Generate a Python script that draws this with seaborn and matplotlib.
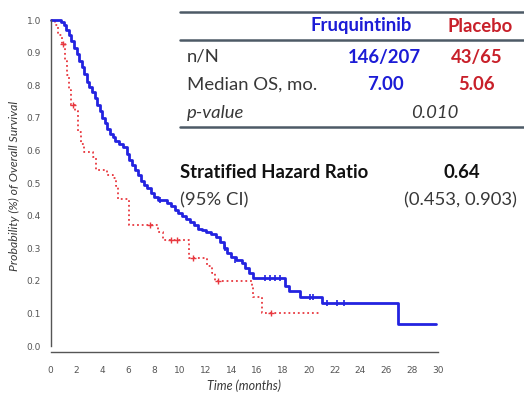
import matplotlib
matplotlib.use("Agg")
import matplotlib.pyplot as plt
import seaborn as sns
import pandas as pd

# ---------------- data ----------------
fru_time = [0, 0.8, 1.0, 1.2, 1.4, 1.6, 1.8, 2.0, 2.2, 2.4, 2.6, 2.8, 3.0, 3.2, 3.4,
            3.6, 3.8, 4.0, 4.2, 4.4, 4.6, 4.8, 5.0, 5.3, 5.6, 5.9, 6.1, 6.3, 6.5, 6.8,
            7.0, 7.2, 7.5, 7.8, 8.0, 8.3, 9.0, 9.3, 9.6, 9.9, 10.2, 10.5, 10.8, 11.1,
            11.4, 11.7, 12.0, 12.4, 12.8, 13.1, 13.4, 13.7, 14.0, 14.4, 14.8, 15.1,
            15.4, 15.7, 18.2, 18.5, 19.3, 21.0, 26.9, 29.9]
fru_surv = [1.0, 0.995, 0.985, 0.97, 0.955, 0.935, 0.915, 0.895, 0.875, 0.855, 0.835,
            0.81, 0.795, 0.78, 0.76, 0.74, 0.72, 0.70, 0.685, 0.665, 0.65, 0.64, 0.63,
            0.62, 0.61, 0.59, 0.57, 0.555, 0.54, 0.525, 0.505, 0.495, 0.485, 0.47,
            0.458, 0.448, 0.438, 0.428, 0.418, 0.408, 0.40, 0.39, 0.38, 0.37, 0.36,
            0.355, 0.35, 0.345, 0.335, 0.32, 0.30, 0.285, 0.272, 0.265, 0.255, 0.24,
            0.225, 0.208, 0.185, 0.168, 0.15, 0.132, 0.067, 0.067]
fru_cens_time = [8.5, 13.5, 14.3, 16.6, 17.0, 17.4, 17.8, 20.1, 20.35, 21.4, 22.2, 22.7]
fru_cens_surv = [0.448, 0.30, 0.265, 0.208, 0.208, 0.208, 0.208, 0.15, 0.15, 0.132, 0.132, 0.132]

pla_time = [0, 0.3, 0.6, 0.85, 1.1, 1.3, 1.45, 1.6, 1.9, 2.1, 2.35, 2.6, 3.3, 3.5,
            4.4, 4.8, 5.05, 5.2, 6.1, 8.3, 8.7, 10.7, 12.1, 12.5, 12.7, 15.6, 15.7,
            16.4, 20.9]
pla_surv = [1.0, 0.985, 0.955, 0.925, 0.875, 0.83, 0.785, 0.74, 0.72, 0.655, 0.62,
            0.595, 0.58, 0.54, 0.525, 0.515, 0.49, 0.45, 0.37, 0.35, 0.325, 0.27,
            0.245, 0.225, 0.20, 0.18, 0.15, 0.10, 0.10]
pla_cens_time = [0.95, 1.75, 7.7, 9.3, 9.8, 11.0, 13.0, 17.1]
pla_cens_surv = [0.925, 0.74, 0.37, 0.325, 0.325, 0.27, 0.20, 0.10]

x_ticks = list(range(0, 31, 2))
y_ticks = [0.0, 0.1, 0.2, 0.3, 0.4, 0.5, 0.6, 0.7, 0.8, 0.9, 1.0]

BLUE = "#2323e0"
RED = "#e8383f"
RED_TXT = "#c8202a"
BLUE_TXT = "#1c1cd6"
DARK = "#383838"
GREY = "#555555"

sns.set_style("white")
plt.rcParams["font.family"] = ["Lato", "DejaVu Sans"]

fig = plt.figure(figsize=(5.24, 3.95), dpi=100)
ax = fig.add_axes([50.7 / 524, 1 - 352 / 395, 387 / 524, 332 / 395])

fru = pd.DataFrame({"t": fru_time, "s": fru_surv})
pla = pd.DataFrame({"t": pla_time, "s": pla_surv})
sns.lineplot(data=pla, x="t", y="s", ax=ax, color=RED, lw=1.3, linestyle=(0, (1, 1.6)),
             drawstyle="steps-post", estimator=None, sort=False, clip_on=False)
sns.lineplot(data=fru, x="t", y="s", ax=ax, color=BLUE, lw=2.0,
             drawstyle="steps-post", estimator=None, sort=False, clip_on=False)
sns.scatterplot(x=pla_cens_time, y=pla_cens_surv, ax=ax, marker="+", color=RED,
                s=22, linewidth=1.0, clip_on=False)
sns.scatterplot(x=fru_cens_time, y=fru_cens_surv, ax=ax, marker="|", color=BLUE,
                s=22, linewidth=1.2, clip_on=False)

ax.set_xlim(0, 30)
ax.set_ylim(-0.0184, 1.0)
ax.spines["left"].set_bounds(0, 1.0)
ax.spines["bottom"].set_bounds(0, 30)
for sp in ["top", "right"]:
    ax.spines[sp].set_visible(False)
for sp in ["left", "bottom"]:
    ax.spines[sp].set_color(GREY)
    ax.spines[sp].set_linewidth(1.0)

ax.set_xticks(x_ticks)
ax.set_xticklabels([str(v) for v in x_ticks])
ax.set_yticks(y_ticks)
ax.set_yticklabels([f"{v:.1f}" for v in y_ticks])
ax.tick_params(axis="both", direction="out", length=3, width=0.8, color=GREY,
               labelsize=6.5, labelcolor=GREY)
ax.tick_params(axis="x", pad=7)
ax.tick_params(axis="y", pad=4)
for lab in ax.get_xticklabels() + ax.get_yticklabels():
    lab.set_family(["DejaVu Sans"])

ax.set_xlabel("Time (months)", fontsize=9, style="italic", color=DARK, labelpad=3)
ax.set_ylabel("Probability (%) of Overall Survival", fontsize=8.8, style="italic",
              color=DARK, labelpad=5)

# ---------------- table ----------------
def px(x, y):
    return x / 524, 1 - y / 395

for yy in [11.5, 40, 126.5]:
    fig.add_artist(plt.Line2D([180 / 524, 1.0], [1 - yy / 395] * 2,
                              color="#4d5a66", lw=1.8))

fs = 13.3
fig.text(*px(361, 26), "Fruquintinib", color=BLUE_TXT, fontsize=fs, weight="bold",
         ha="center", va="center")
fig.text(*px(480, 26), "Placebo", color=RED_TXT, fontsize=fs, weight="bold",
         ha="center", va="center")
fig.text(*px(187, 57), "n/N", color=DARK, fontsize=fs, ha="left", va="center")
fig.text(*px(384, 57), "146/207", color=BLUE_TXT, fontsize=fs, weight="bold",
         ha="center", va="center")
fig.text(*px(477, 57), "43/65", color=RED_TXT, fontsize=fs, weight="bold",
         ha="center", va="center")
fig.text(*px(187, 85), "Median OS, mo.", color=DARK, fontsize=fs, ha="left", va="center")
fig.text(*px(385, 85), "7.00", color=BLUE_TXT, fontsize=fs, weight="bold",
         ha="center", va="center")
fig.text(*px(477, 85), "5.06", color=RED_TXT, fontsize=fs, weight="bold",
         ha="center", va="center")
fig.text(*px(187, 113), "p-value", color=DARK, fontsize=fs, style="italic",
         ha="left", va="center")
fig.text(*px(435, 113), "0.010", color=DARK, fontsize=fs, style="italic",
         ha="center", va="center")

fig.text(*px(180, 173), "Stratified Hazard Ratio", color="#111111", fontsize=fs,
         weight="bold", ha="left", va="center")
fig.text(*px(462, 173), "0.64", color="#111111", fontsize=fs, weight="bold",
         ha="center", va="center")
fig.text(*px(180, 200), "(95% CI)", color=DARK, fontsize=fs, ha="left", va="center")
fig.text(*px(460, 200), "(0.453, 0.903)", color=DARK, fontsize=fs,
         ha="center", va="center")

fig.savefig("out.png", dpi=100)
